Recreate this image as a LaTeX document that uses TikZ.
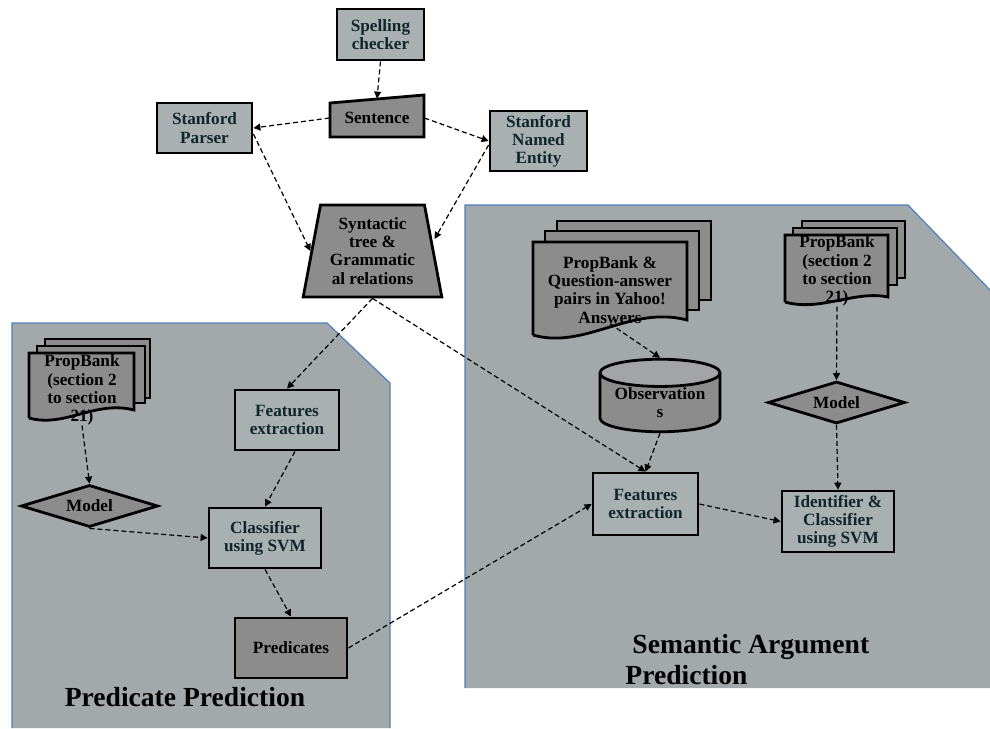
\documentclass[tikz,border=0pt]{standalone}
\usepackage{fontspec}
\setmainfont{Liberation Serif}
\usepackage{xcolor}
\usepackage{tikz}
\usetikzlibrary{positioning,calc,arrows.meta,shapes.geometric}
\definecolor{panelfill}{HTML}{A3A9AB}
\definecolor{panelline}{HTML}{4F81BD}
\definecolor{boxfill}{HTML}{A8B0B2}
\definecolor{darkfill}{HTML}{8C8C8C}
\definecolor{endfill}{HTML}{A2A4A5}
\definecolor{txt}{HTML}{10262C}

\begin{document}
\begin{tikzpicture}[
  x=0.5pt, y=-0.5pt,
  font=\fontsize{8.6}{9.1}\selectfont\bfseries,
  box/.style={draw, line width=1.4pt, fill=boxfill, text=txt, align=center,
              minimum width=#1, minimum height=30pt, inner sep=1pt},
  box/.default=52pt,
  dbox/.style={box=#1, fill=darkfill, text=black},
  sheet/.style={draw, line width=1.4pt, fill=darkfill},
  panel/.style={fill=panelfill},
  panelborder/.style={draw=panelline, line width=0.6pt},
  dec/.style={diamond, draw, line width=1.4pt, fill=darkfill, aspect=3.3,
              inner sep=0pt, minimum width=68.5pt, minimum height=21pt},
  arr/.style={-{Triangle[length=3.5pt,width=3.5pt]}, dash pattern=on 2.5pt off 1.5pt,
              line width=0.6pt},
  title/.style={font=\fontsize{13.8}{15.5}\selectfont\bfseries, align=left, inner sep=0pt}]
\useasboundingbox (0,0) rectangle (990,728);

% panels
\fill[panel] (12,728) -- (12,323) -- (327,323) -- (390,383) -- (390,728) -- cycle;
\draw[panelborder] (12,728) -- (12,323) -- (327,323) -- (390,383) -- (390,728);
\fill[panel] (465,688) -- (465,205) -- (908,205) -- (990,290) -- (990,688) -- cycle;
\draw[panelborder] (465,688) -- (465,205) -- (908,205) -- (990,290);

% top part
\node[box=43.5pt, minimum height=25.5pt] (spell) at (380.5,34.5) {Spelling\\checker};
\draw[sheet] (330,103) -- (424,95) -- (424,137) -- (330,137) -- cycle;
\node[align=center, minimum width=47pt, minimum height=19pt, inner sep=0pt] (sent) at (377,118) {Sentence};
\node[box=47.5pt, minimum height=25pt] (parser) at (204.5,128) {Stanford\\Parser};
\node[box=48.5pt] (ne) at (538.5,141) {Stanford\\Named\\Entity};
\node[trapezium, trapezium stretches=true, trapezium left angle=78, trapezium right angle=78,
      draw, line width=1.4pt, fill=darkfill, align=center, inner sep=0pt,
      minimum width=69.5pt, minimum height=46pt] (syn) at (372.5,251)
      {Syntactic\\tree \&\\Grammatic\\al relations};

% predicate prediction
\draw[sheet] (45,339) rectangle (150,398);
\draw[sheet] (37,346) rectangle (145,403);
\draw[sheet] (29,418) -- (29,353) -- (134,353) -- (134,410)
  .. controls (95,400) and (65,428) .. (29,418);
\node[align=center, inner sep=0pt] (pbl) at (82,390) {PropBank\\(section 2\\to section\\21)};
\node[dec] (modell) at (89.5,506) {Model};
\node[box=52pt] (fel) at (287,420) {Features\\extraction};
\node[box=56pt] (cls) at (265,538) {Classifier\\using SVM};
\node[dbox=56pt] (pred) at (291,648) {Predicates};
\node[title, anchor=center] (ptitle) at (185,697) {Predicate Prediction};

% semantic argument prediction
\draw[sheet] (557,221) rectangle (711,300);
\draw[sheet] (545,231) rectangle (699,310);
\draw[sheet] (533,335) -- (533,242) -- (687,242) -- (687,320)
  .. controls (630,305) and (585,350) .. (533,335);
\node[align=center, inner sep=0pt] (qa) at (610,290) {PropBank \&\\Question-answer\\pairs in Yahoo!\\Answers};
\draw[sheet] (802,221) rectangle (905,278);
\draw[sheet] (793,228) rectangle (897,285);
\draw[sheet] (785,302) -- (785,235) -- (888,235) -- (888,297)
  .. controls (855,290) and (820,312) .. (785,302);
\node[align=center, inner sep=0pt] (pbr) at (837,271) {PropBank\\(section 2\\to section\\21)};
\node[cylinder, shape border rotate=90, aspect=0.3, draw, line width=1.4pt,
      cylinder uses custom fill, cylinder body fill=darkfill, cylinder end fill=endfill,
      align=center, inner sep=0pt, minimum width=60pt, minimum height=30pt] (obs) at (660,403)
      {Observation\\s};
\node[dec] (modelr) at (836.5,402.5) {Model};
\node[box=52.5pt, minimum height=31pt] (fer) at (645.5,504) {Features\\extraction};
\node[box=56pt, minimum height=30.5pt] (idc) at (838,521.5) {Identifier \&\\Classifier\\using SVM};
\node[title, anchor=west] (stitle) at (625,660) {\hspace{3.5pt}Semantic Argument\\Prediction};

% connectors
\draw[arr] (spell.south) -- (sent.north);
\draw[arr] (sent.west) -- (parser.east);
\draw[arr] (sent.east) -- (ne.west);
\draw[arr] ([yshift=-3pt]parser.east) -- (syn.west);
\draw[arr] ([yshift=-2pt]ne.west) -- ([yshift=6pt]syn.east);
\draw[arr] (syn.south) -- (fel.north);
\draw[arr] (syn.south) -- (fer.north);
\draw[arr] (pbl.south) -- (modell.north);
\draw[arr] (modell.south) -- (cls.west);
\draw[arr] ([xshift=4pt]fel.south) -- (cls.north);
\draw[arr] (cls.south) -- (pred.north);
\draw[arr] (pred.east) -- (fer.west);
\draw[arr] (qa.south) -- (obs.north);
\draw[arr] (obs.south) -- (fer.north);
\draw[arr] (pbr.south) -- (modelr.north);
\draw[arr] (modelr.south) -- (idc.north);
\draw[arr] (fer.east) -- (idc.west);
\end{tikzpicture}
\end{document}
